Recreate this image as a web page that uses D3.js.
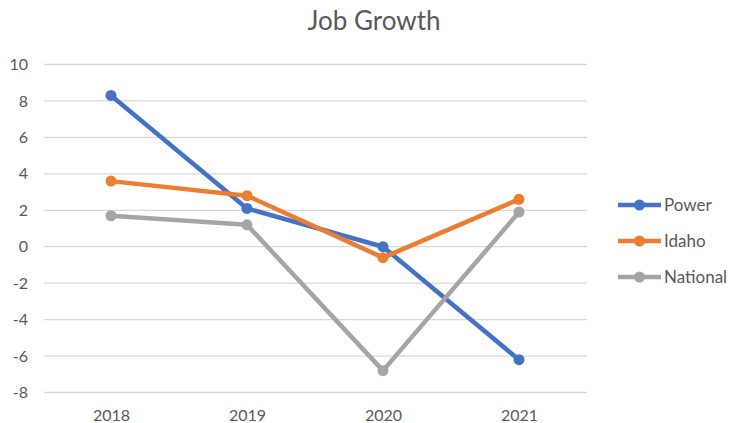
<!DOCTYPE html>
<html><head><meta charset="utf-8">
<script src="https://cdn.jsdelivr.net/npm/d3@7"></script>
<style>body{margin:0;background:#fff;} text{font-family:Lato,"Open Sans",sans-serif;}</style>
</head><body><svg id="c" width="730" height="423"></svg>
<script>
const categories = ["2018","2019","2020","2021"];
const seriesNames = ["Power","Idaho","National"];
const powerValues = [8.3, 2.1, 0.0, -6.2];
const idahoValues = [3.6, 2.8, -0.6, 2.6];
const nationalValues = [1.7, 1.2, -6.8, 1.9];
const yTicks = [10,8,6,4,2,0,-2,-4,-6,-8];
const colors = ["#4472C4","#ED7D31","#A5A5A5"];
const seriesValues = [powerValues, idahoValues, nationalValues];

const svg = d3.select("#c");
const x = d3.scalePoint().domain(categories).range([111, 519]);
const y = d3.scaleLinear().domain([-8,10]).range([392.5, 64.5]);

svg.append("text").attr("x",374).attr("y",30).attr("text-anchor","middle")
  .attr("fill","#595959").style("font-size","26px").text("Job Growth");

const grid = svg.append("g");
grid.selectAll("line").data(yTicks).join("line")
  .attr("x1",44).attr("x2",587).attr("y1",d=>y(d)).attr("y2",d=>y(d))
  .attr("stroke","#d9d9d9").attr("stroke-width",1.3);

const yAxis = d3.axisLeft(y).tickValues(yTicks).tickSize(0).tickPadding(0).tickFormat(d=>String(d));
const ya = svg.append("g").attr("transform","translate(28,0)").call(yAxis);
ya.select(".domain").remove();
ya.selectAll("text").attr("fill","#595959").style("font-size","16px").style("font-family","Lato,'Open Sans',sans-serif");

const xAxis = d3.axisBottom(x).tickSize(0).tickPadding(0);
const xa = svg.append("g").attr("transform","translate(0,410)").call(xAxis);
xa.select(".domain").remove();
xa.selectAll("text").attr("fill","#595959").style("font-size","16px").style("font-family","Lato,'Open Sans',sans-serif");

const line = d3.line().x((d,i)=>x(categories[i])).y(d=>y(d));
seriesValues.forEach((vals,si)=>{
  const g = svg.append("g");
  g.append("path").attr("d",line(vals)).attr("fill","none")
    .attr("stroke",colors[si]).attr("stroke-width",4.5).attr("stroke-linejoin","round");
  g.selectAll("circle").data(vals).join("circle")
    .attr("cx",(d,i)=>x(categories[i])).attr("cy",d=>y(d)).attr("r",5.5).attr("fill",colors[si]);
});

const legend = svg.append("g");
seriesNames.forEach((n,i)=>{
  const ly = 205 + i*36;
  legend.append("line").attr("x1",618).attr("x2",661).attr("y1",ly).attr("y2",ly)
    .attr("stroke",colors[i]).attr("stroke-width",4.5);
  legend.append("circle").attr("cx",639.5).attr("cy",ly).attr("r",5.5).attr("fill",colors[i]);
  legend.append("text").attr("x",664).attr("y",ly+6).attr("fill","#595959")
    .style("font-size","17px").text(n);
});
</script></body></html>
